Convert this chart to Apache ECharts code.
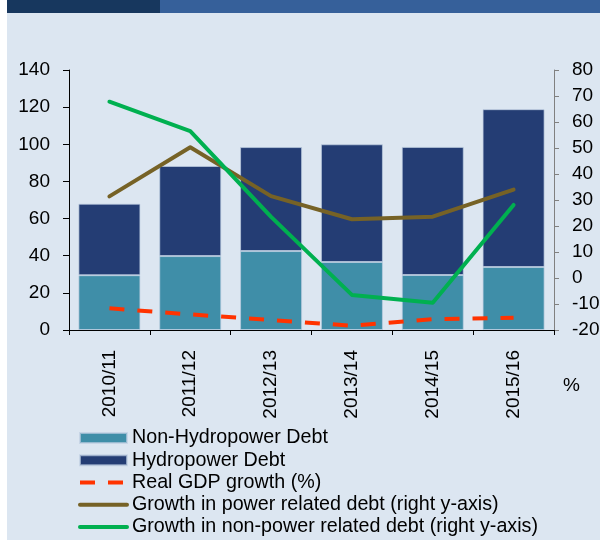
<!DOCTYPE html>
<html>
<head>
<meta charset="utf-8">
<script src="https://cdn.jsdelivr.net/npm/echarts@6/dist/echarts.min.js"></script>
<style>
  html, body { margin: 0; padding: 0; background: #ffffff; }
  #chart { width: 600px; height: 540px; }
</style>
</head>
<body>
<div id="chart"></div>
<script>
// Fiscal years on the category axis
const years = ['2010/11', '2011/12', '2012/13', '2013/14', '2014/15', '2015/16'];

// Stacked debt components (left axis)
const nonHydroDebt = [29.5, 39.8, 42.5, 36.6, 29.6, 33.9];
const hydroDebt = [38.5, 48.5, 56.0, 63.4, 69.0, 85.0];

// Real GDP growth, % (left axis)
const gdpGrowth = [11.7, 8.4, 5.4, 2.3, 5.8, 6.6];

// Debt growth rates, % (right axis)
const powerDebtGrowth = [31.4, 50.3, 31.5, 22.6, 23.6, 34.0];
const nonPowerDebtGrowth = [67.8, 56.5, 23.5, -6.5, -9.5, 28.1];

// Axis ranges
const leftAxisRange = { min: 0, max: 140, step: 20 };
const rightAxisRange = { min: -20, max: 80, step: 10 };

const FONT = "'Liberation Sans', Arial, sans-serif";
const chart = echarts.init(document.getElementById('chart'), null, { renderer: 'canvas' });

// Legend entries for line series: show only the stroke, no marker dot
const noMarker = { color: 'rgba(0,0,0,0)', borderWidth: 0, opacity: 0 };

const option = {
  animation: false,
  backgroundColor: '#ffffff',
  textStyle: { fontFamily: FONT },
  graphic: [
    { type: 'rect', shape: { x: 7, y: 13, width: 593, height: 527 }, style: { fill: '#DCE6F1' }, z: -10 },
    { type: 'rect', shape: { x: 7, y: 0, width: 153, height: 13 }, style: { fill: '#17375E' }, z: -10 },
    { type: 'rect', shape: { x: 160, y: 0, width: 440, height: 13 }, style: { fill: '#36609A' }, z: -10 },
    { type: 'text', left: 563, top: 376, style: { text: '%', fontSize: 19, fontFamily: FONT, fill: '#000' } }
  ],
  // keep the plot rectangle fixed even though the right-hand labels run to the edge
  grid: { left: 69, right: 46, top: 70, bottom: 210, containLabel: false, outerBoundsMode: 'none' },
  legend: {
    orient: 'vertical',
    left: 73,
    top: 422,
    height: 130,
    itemWidth: 47,
    itemHeight: 10,
    itemGap: 0.25,
    textStyle: { fontSize: 19.7, fontFamily: FONT, color: '#000', lineHeight: 22 },
    data: [
      { name: 'Non-Hydropower Debt', icon: 'rect' },
      { name: 'Hydropower Debt', icon: 'rect' },
      { name: 'Real GDP growth (%)', itemStyle: noMarker, lineStyle: { width: 4, type: [15, 13] } },
      { name: 'Growth in power related debt (right y-axis)', itemStyle: noMarker, lineStyle: { width: 4 } },
      { name: 'Growth in non-power related debt (right y-axis)', itemStyle: noMarker, lineStyle: { width: 4 } }
    ]
  },
  xAxis: {
    type: 'category',
    data: years,
    boundaryGap: true,
    axisLine: { lineStyle: { color: '#000', width: 1 } },
    axisTick: { show: true, length: 5, lineStyle: { color: '#000' } },
    axisLabel: { rotate: 90, margin: 20, fontSize: 19, color: '#000', fontFamily: FONT }
  },
  yAxis: [
    {
      type: 'value',
      position: 'left',
      min: leftAxisRange.min, max: leftAxisRange.max, interval: leftAxisRange.step,
      splitLine: { show: false },
      axisLine: { show: true, lineStyle: { color: '#000', width: 1 } },
      axisTick: { show: true, length: 6, lineStyle: { color: '#000' } },
      axisLabel: { margin: 19, fontSize: 19, color: '#000', fontFamily: FONT }
    },
    {
      type: 'value',
      position: 'right',
      min: rightAxisRange.min, max: rightAxisRange.max, interval: rightAxisRange.step,
      splitLine: { show: false },
      axisLine: { show: true, lineStyle: { color: '#808080', width: 1 } },
      axisTick: { show: true, length: 5, lineStyle: { color: '#808080' } },
      axisLabel: { margin: 18, fontSize: 19, color: '#000', fontFamily: FONT }
    }
  ],
  series: [
    {
      name: 'Non-Hydropower Debt',
      type: 'bar',
      stack: 'debt',
      barWidth: 62,
      data: nonHydroDebt,
      itemStyle: { color: '#3F8EA8', borderColor: 'rgba(190,205,225,0.7)', borderWidth: 1 },
      z: 2
    },
    {
      name: 'Hydropower Debt',
      type: 'bar',
      stack: 'debt',
      barWidth: 62,
      data: hydroDebt,
      itemStyle: { color: '#243D74', borderColor: 'rgba(190,205,225,0.7)', borderWidth: 1 },
      z: 2
    },
    {
      name: 'Real GDP growth (%)',
      type: 'line',
      yAxisIndex: 0,
      data: gdpGrowth,
      symbol: 'none',
      color: '#FF3300',
      lineStyle: { color: '#FF3300', width: 4, type: [15, 13], cap: 'butt' },
      z: 5
    },
    {
      name: 'Growth in power related debt (right y-axis)',
      type: 'line',
      yAxisIndex: 1,
      data: powerDebtGrowth,
      symbol: 'none',
      color: '#766226',
      lineStyle: { color: '#766226', width: 4, cap: 'round', join: 'round' },
      z: 5
    },
    {
      name: 'Growth in non-power related debt (right y-axis)',
      type: 'line',
      yAxisIndex: 1,
      data: nonPowerDebtGrowth,
      symbol: 'none',
      color: '#00B050',
      lineStyle: { color: '#00B050', width: 4, cap: 'round', join: 'round' },
      z: 6
    }
  ]
};

chart.setOption(option);
</script>
</body>
</html>
